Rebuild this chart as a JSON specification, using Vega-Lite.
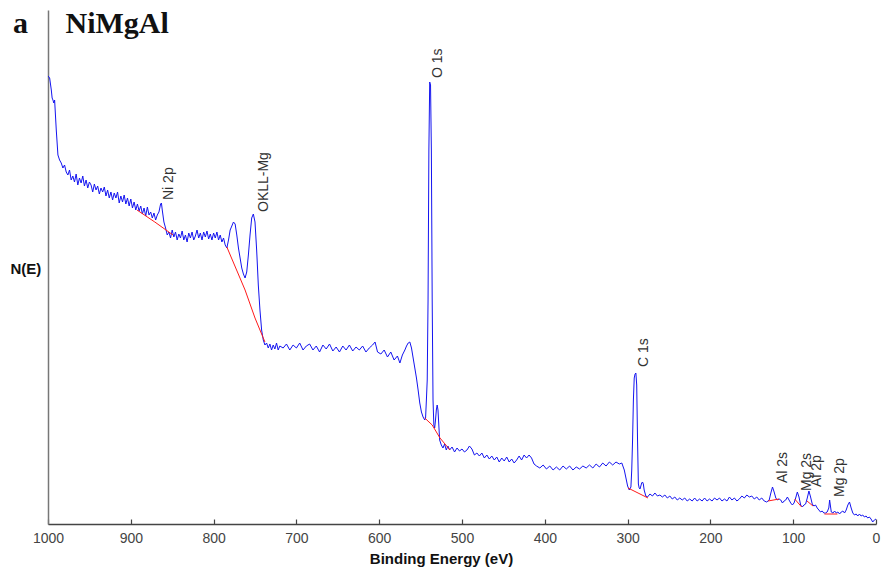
{
  "$schema": "https://vega.github.io/schema/vega-lite/v6.json",
  "width": 828,
  "height": 514,
  "autosize": {"type": "none"},
  "padding": {"left": 48, "top": 10, "right": 6, "bottom": 55},
  "background": "white",
  "config": {"view": {"stroke": null}},
  "title": {
    "text": "a\u00a0\u00a0\u00a0\u00a0\u00a0NiMgAl",
    "orient": "top",
    "anchor": "start",
    "frame": "group",
    "font": "Liberation Serif",
    "fontSize": 30,
    "fontWeight": "bold",
    "color": "#111",
    "baseline": "alphabetic",
    "offset": -23,
    "dx": -35,
    "dy": 30
  },
  "datasets": {
    "spec": [
      {"e":1000,"n":448},{"e":998,"n":446},{"e":996,"n":434},{"e":995,"n":426},{"e":994,"n":424},{"e":993,"n":421},{"e":992,"n":424},{"e":990,"n":394},{"e":988,"n":369},{"e":986,"n":364},{"e":984,"n":361},{"e":982,"n":356},{"e":980,"n":359},{"e":978,"n":352},{"e":976,"n":349},{"e":974,"n":354},{"e":972,"n":344},{"e":970,"n":348},{"e":968,"n":342},{"e":966,"n":350},{"e":964,"n":339},{"e":962,"n":346},{"e":960,"n":341},{"e":958,"n":348},{"e":956,"n":338},{"e":954,"n":344},{"e":952,"n":336},{"e":950,"n":342},
      {"e":948,"n":339},{"e":946,"n":332},{"e":944,"n":340},{"e":942,"n":334},{"e":940,"n":338},{"e":938,"n":330},{"e":936,"n":336},{"e":934,"n":332},{"e":932,"n":337},{"e":930,"n":328},{"e":928,"n":334},{"e":926,"n":326},{"e":924,"n":332},{"e":922,"n":324},{"e":920,"n":331},{"e":918,"n":326},{"e":916,"n":332},{"e":914,"n":321},{"e":912,"n":328},{"e":910,"n":322},{"e":908,"n":329},{"e":906,"n":320},{"e":904,"n":326},{"e":902,"n":318},{"e":900,"n":325},{"e":898,"n":316},{"e":896,"n":322},{"e":894,"n":314},{"e":892,"n":320},{"e":890,"n":313},{"e":888,"n":318},{"e":886,"n":310},{"e":884,"n":316},{"e":882,"n":308},{"e":880,"n":317},{"e":878,"n":309},{"e":876,"n":312},{"e":874,"n":306},{"e":872,"n":311},{"e":870,"n":304},{"e":868,"n":309},{"e":866,"n":312},{"e":864,"n":320},{"e":863,"n":321},{"e":862,"n":314},{"e":860,"n":302},{"e":858,"n":296},{"e":856,"n":289},{"e":854,"n":292},{"e":852,"n":286},{"e":850,"n":294},{"e":848,"n":287},{"e":846,"n":292},{"e":844,"n":284},{"e":842,"n":290},{"e":840,"n":286},{"e":838,"n":293},{"e":836,"n":284},{"e":834,"n":289},{"e":832,"n":282},{"e":830,"n":291},{"e":828,"n":286},{"e":826,"n":292},{"e":824,"n":284},{"e":822,"n":288},{"e":820,"n":294},{"e":818,"n":286},{"e":816,"n":291},{"e":814,"n":284},{"e":812,"n":292},{"e":810,"n":287},{"e":808,"n":293},{"e":806,"n":285},{"e":804,"n":290},{"e":802,"n":284},{"e":800,"n":291},{"e":798,"n":286},{"e":796,"n":292},{"e":794,"n":284},{"e":792,"n":289},{"e":790,"n":282},{"e":788,"n":286},{"e":786,"n":279},{"e":784,"n":276},{"e":782,"n":284},{"e":780,"n":294},{"e":778,"n":298},{"e":776,"n":302},{"e":774,"n":300},{"e":772,"n":289},{"e":770,"n":276},{"e":768,"n":266},{"e":766,"n":256},{"e":764,"n":250},{"e":762,"n":246},{"e":760,"n":252},{"e":758,"n":269},{"e":756,"n":289},{"e":754,"n":306},{"e":752,"n":310},{"e":750,"n":302},{"e":748,"n":274},{"e":746,"n":239},{"e":744,"n":214},{"e":742,"n":194},{"e":740,"n":184},{"e":738,"n":179},{"e":736,"n":181},{"e":734,"n":176},{"e":732,"n":180},{"e":730,"n":174},{"e":728,"n":179},{"e":726,"n":175},{"e":724,"n":181},{"e":722,"n":174},{"e":720,"n":178},{"e":716,"n":176},{"e":712,"n":180},{"e":708,"n":174},{"e":704,"n":179},{"e":700,"n":176},{"e":696,"n":181},{"e":692,"n":174},{"e":688,"n":178},{"e":684,"n":180},{"e":680,"n":174},{"e":676,"n":178},{"e":672,"n":172},{"e":668,"n":179},{"e":664,"n":175},{"e":660,"n":180},{"e":656,"n":173},{"e":652,"n":177},{"e":648,"n":172},{"e":644,"n":178},{"e":640,"n":174},{"e":636,"n":179},{"e":632,"n":173},{"e":628,"n":177},{"e":624,"n":174},{"e":620,"n":178},{"e":616,"n":172},{"e":612,"n":176},{"e":608,"n":179},{"e":605,"n":182},{"e":602,"n":172},{"e":598,"n":170},{"e":594,"n":174},{"e":590,"n":167},{"e":586,"n":172},{"e":582,"n":164},{"e":578,"n":168},{"e":575,"n":161},{"e":572,"n":169},{"e":569,"n":174},{"e":567,"n":178},{"e":565,"n":181},{"e":563,"n":182},{"e":561,"n":176},{"e":559,"n":166},{"e":557,"n":156},{"e":555,"n":146},{"e":553,"n":134},{"e":551,"n":121},{"e":549,"n":112},{"e":547,"n":107},{"e":545,"n":104},{"e":544,"n":106},{"e":543,"n":124},{"e":542,"n":144},{"e":541,"n":224},{"e":540,"n":374},{"e":539,"n":442},{"e":538,"n":439},{"e":537,"n":374},{"e":536,"n":224},{"e":535,"n":124},{"e":534,"n":99},{"e":533,"n":96},{"e":532,"n":104},{"e":531,"n":114},{"e":530,"n":119},{"e":529,"n":114},{"e":528,"n":99},{"e":527,"n":84},{"e":525,"n":79},{"e":523,"n":76},{"e":521,"n":80},{"e":519,"n":74},{"e":517,"n":78},{"e":515,"n":74},{"e":512,"n":77},{"e":509,"n":72},{"e":506,"n":76},{"e":503,"n":73},{"e":500,"n":75},{"e":497,"n":72},{"e":494,"n":74},{"e":491,"n":78},{"e":488,"n":75},{"e":485,"n":69},{"e":482,"n":71},{"e":479,"n":68},{"e":476,"n":71},{"e":473,"n":66},{"e":470,"n":69},{"e":467,"n":65},{"e":464,"n":68},{"e":461,"n":64},{"e":458,"n":67},{"e":455,"n":62},{"e":452,"n":66},{"e":449,"n":63},{"e":446,"n":67},{"e":443,"n":62},{"e":440,"n":65},{"e":437,"n":61},{"e":434,"n":64},{"e":431,"n":68},{"e":428,"n":64},{"e":425,"n":69},{"e":422,"n":66},{"e":419,"n":69},{"e":416,"n":66},{"e":413,"n":60},{"e":410,"n":58},{"e":406,"n":56},{"e":402,"n":59},{"e":398,"n":55},{"e":394,"n":58},{"e":390,"n":54},{"e":386,"n":57},{"e":382,"n":54},{"e":378,"n":58},{"e":374,"n":55},{"e":370,"n":58},{"e":366,"n":54},{"e":362,"n":57},{"e":358,"n":55},{"e":354,"n":58},{"e":350,"n":56},{"e":346,"n":59},{"e":342,"n":56},{"e":338,"n":60},{"e":334,"n":57},{"e":330,"n":61},{"e":326,"n":58},{"e":322,"n":62},{"e":318,"n":59},{"e":314,"n":62},{"e":310,"n":60},{"e":307,"n":61},{"e":304,"n":54},{"e":302,"n":46},{"e":300,"n":38},{"e":298,"n":34},{"e":296,"n":37},{"e":295,"n":54},{"e":294,"n":84},{"e":293,"n":124},{"e":292,"n":146},{"e":291,"n":150},{"e":290,"n":151},{"e":289,"n":139},{"e":288,"n":84},{"e":287,"n":40},{"e":286,"n":36},{"e":285,"n":35},{"e":284,"n":38},{"e":283,"n":41},{"e":282,"n":42},{"e":281,"n":40},{"e":280,"n":34},{"e":278,"n":28},{"e":276,"n":27},{"e":273,"n":30},{"e":270,"n":28},{"e":267,"n":31},{"e":264,"n":28},{"e":261,"n":29},{"e":258,"n":27},{"e":255,"n":29},{"e":252,"n":26},{"e":249,"n":28},{"e":246,"n":25},{"e":243,"n":27},{"e":240,"n":24},{"e":237,"n":26},{"e":234,"n":24},{"e":231,"n":26},{"e":228,"n":23},{"e":225,"n":25},{"e":222,"n":23},{"e":219,"n":26},{"e":216,"n":23},{"e":213,"n":25},{"e":210,"n":23},{"e":207,"n":26},{"e":204,"n":23},{"e":201,"n":25},{"e":198,"n":23},{"e":195,"n":26},{"e":192,"n":24},{"e":189,"n":26},{"e":186,"n":23},{"e":183,"n":25},{"e":180,"n":23},{"e":177,"n":27},{"e":174,"n":24},{"e":171,"n":26},{"e":168,"n":23},{"e":165,"n":25},{"e":162,"n":28},{"e":159,"n":26},{"e":156,"n":29},{"e":153,"n":27},{"e":150,"n":28},{"e":147,"n":25},{"e":144,"n":27},{"e":141,"n":24},{"e":138,"n":26},{"e":135,"n":23},{"e":132,"n":22},{"e":129,"n":24},{"e":127,"n":31},{"e":125,"n":37},{"e":123,"n":32},{"e":121,"n":26},{"e":119,"n":24},{"e":117,"n":25},{"e":115,"n":24},{"e":113,"n":21},{"e":111,"n":23},{"e":109,"n":24},{"e":107,"n":27},{"e":105,"n":24},{"e":103,"n":21},{"e":101,"n":19},{"e":99,"n":21},{"e":97,"n":26},{"e":95,"n":32},{"e":93,"n":27},{"e":91,"n":19},{"e":89,"n":17},{"e":87,"n":19},{"e":85,"n":20},{"e":83,"n":26},{"e":81,"n":33},{"e":79,"n":27},{"e":77,"n":20},{"e":75,"n":18},{"e":73,"n":19},{"e":71,"n":16},{"e":69,"n":14},{"e":67,"n":12},{"e":65,"n":13},{"e":63,"n":11},{"e":61,"n":11},{"e":59,"n":12},{"e":57,"n":16},{"e":56,"n":24},{"e":55,"n":18},{"e":54,"n":12},{"e":52,"n":11},{"e":50,"n":13},{"e":48,"n":11},{"e":46,"n":12},{"e":44,"n":10},{"e":42,"n":12},{"e":40,"n":13},{"e":38,"n":11},{"e":36,"n":14},{"e":34,"n":19},{"e":32,"n":22},{"e":30,"n":16},{"e":28,"n":11},{"e":26,"n":9},{"e":24,"n":10},{"e":22,"n":8},{"e":20,"n":10},{"e":18,"n":8},{"e":16,"n":9},{"e":14,"n":7},{"e":12,"n":8},{"e":10,"n":6},{"e":8,"n":7},{"e":6,"n":5},{"e":4,"n":2},{"e":2,"n":4},{"e":0,"n":5}
    ],
    "bg": [
      {"p":"Ni","e":892.5,"n":314},{"p":"Ni","e":871,"n":302},{"p":"Ni","e":849,"n":289},
      {"p":"OKLL","e":784,"n":277},{"p":"OKLL","e":762,"n":234},{"p":"OKLL","e":750,"n":206},{"p":"OKLL","e":738,"n":182},
      {"p":"O1s","e":545,"n":106},{"p":"O1s","e":536,"n":99},{"p":"O1s","e":526.6,"n":86},{"p":"O1s","e":514.5,"n":74},
      {"p":"C1s","e":299.5,"n":36},{"p":"C1s","e":287.4,"n":31},{"p":"C1s","e":275.4,"n":26},
      {"p":"Al2s","e":130.4,"n":23},{"p":"Al2s","e":117.1,"n":25},
      {"p":"Mg2s","e":98.2,"n":25},{"p":"Mg2s","e":89.8,"n":17},
      {"p":"Al2p","e":83.3,"n":23},{"p":"Al2p","e":76.1,"n":18},
      {"p":"Mg2p","e":62.3,"n":10},{"p":"Mg2p","e":46.6,"n":10}
    ],
    "labels": [
      {"t":"Ni 2p","e":853.9,"n":324},
      {"t":"OKLL-Mg","e":739,"n":312},
      {"t":"O 1s","e":529,"n":446},
      {"t":"C 1s","e":280.2,"n":157},
      {"t":"Al 2s","e":112.3,"n":41},
      {"t":"Mg 2s","e":83.3,"n":33},
      {"t":"Al 2p","e":71.3,"n":37},
      {"t":"Mg 2p","e":43.5,"n":27}
    ]
  },
  "encoding": {
    "x": {
      "field": "e",
      "type": "quantitative",
      "scale": {"domain": [0, 1000], "reverse": true, "nice": false, "zero": false},
      "axis": {
        "values": [1000, 900, 800, 700, 600, 500, 400, 300, 200, 100, 0],
        "grid": false,
        "title": "Binding Energy (eV)",
        "titleFont": "Liberation Sans",
        "titleFontSize": 15,
        "titleFontWeight": "bold",
        "titleColor": "#111",
        "titleX": 393,
        "titleY": 34,
        "titleAlign": "center",
        "titleBaseline": "middle",
        "labelFont": "Liberation Sans",
        "labelFontSize": 14,
        "labelColor": "#444",
        "labelFlush": false,
        "labelPadding": 12,
        "tickSize": -5,
        "tickColor": "#444",
        "tickWidth": 1.2,
        "domainColor": "#444",
        "domainWidth": 1.5,
        "format": "d"
      }
    },
    "y": {
      "field": "n",
      "type": "quantitative",
      "scale": {"domain": [0, 514], "nice": false, "zero": false},
      "axis": {
        "grid": false,
        "ticks": false,
        "labels": false,
        "title": "N(E)",
        "titleFont": "Liberation Sans",
        "titleFontSize": 15,
        "titleFontWeight": "bold",
        "titleColor": "#111",
        "titleAngle": 0,
        "titleAlign": "left",
        "titleBaseline": "middle",
        "titleX": -38,
        "titleY": 258,
        "domainColor": "#777",
        "domainWidth": 1.5
      }
    }
  },
  "layer": [
    {
      "data": {"name": "spec"},
      "mark": {"type": "line", "color": "#1414f0", "strokeWidth": 1, "clip": true}
    },
    {
      "data": {"name": "bg"},
      "mark": {"type": "line", "color": "#ff1a1a", "strokeWidth": 1},
      "encoding": {"detail": {"field": "p", "type": "nominal"}}
    },
    {
      "data": {"name": "labels"},
      "mark": {"type": "text", "angle": 270, "align": "left", "baseline": "middle", "font": "Liberation Sans", "fontSize": 14, "color": "#333"},
      "encoding": {"text": {"field": "t", "type": "nominal"}}
    }
  ]
}
